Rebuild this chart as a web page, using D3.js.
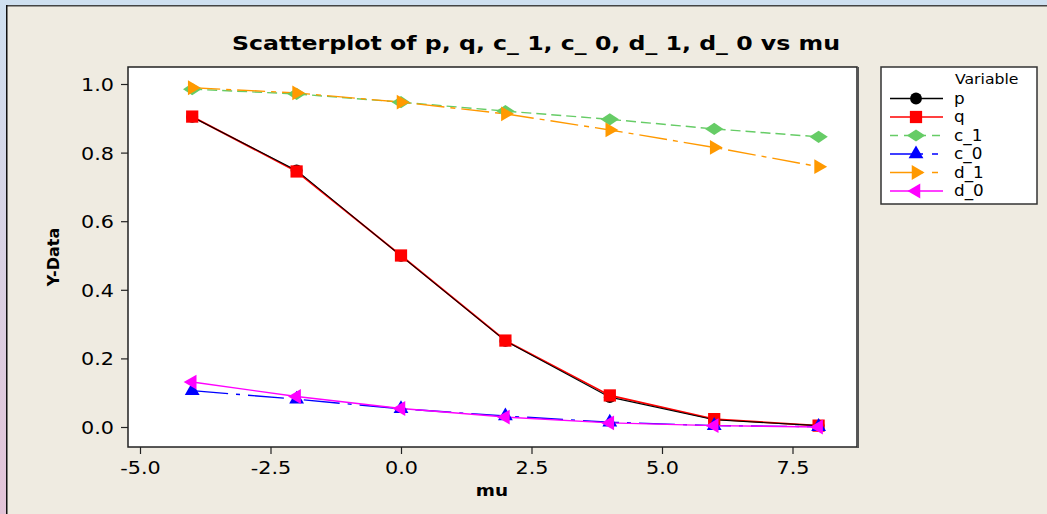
<!DOCTYPE html>
<html>
<head>
<meta charset="utf-8">
<script src="https://cdn.jsdelivr.net/npm/d3@7"></script>
<style>
  body { margin: 0; padding: 0; background: #efebe1; }
  svg { display: block; }
  text { font-family: "DejaVu Sans", Verdana, sans-serif; fill: #000; }
</style>
</head>
<body>
<div id="chart"></div>
<script>
// values
var mu = [-4, -2, 0, 2, 4, 6, 8];
var p = [0.904, 0.748, 0.499, 0.251, 0.087, 0.021, 0.004];
var q = [0.905, 0.745, 0.500, 0.252, 0.092, 0.023, 0.004];
var c_1 = [0.985, 0.971, 0.947, 0.921, 0.897, 0.869, 0.846];
var c_0 = [0.106, 0.081, 0.053, 0.032, 0.014, 0.004, 0.001];
var d_1 = [0.989, 0.974, 0.947, 0.913, 0.866, 0.815, 0.759];
var d_0 = [0.131, 0.089, 0.054, 0.029, 0.012, 0.004, 0.000];
var seriesNames = ["p", "q", "c_1", "c_0", "d_1", "d_0"];
var xTicks = [-5, -2.5, 0, 2.5, 5, 7.5];
var yTicks = [0, 0.2, 0.4, 0.6, 0.8, 1.0];

var width = 1047, height = 514;
var box = {left: 128, right: 857, top: 67, bottom: 447};

// wide diamond like minitab's
var wideDiamond = {
    draw: function(ctx, size) {
        var h = Math.sqrt(size) / 2;
        var w = h * 1.5;
        ctx.moveTo(-w, 0); ctx.lineTo(0, -h); ctx.lineTo(w, 0); ctx.lineTo(0, h); ctx.closePath();
    }
};

var styles = {
    p:   {color: "#000000", dash: null,       lw: 1.1, sym: d3.symbolCircle,   size: 110, rot: 0},
    q:   {color: "#ff0000", dash: null,       lw: 1.8, sym: d3.symbolSquare,   size: 150, rot: 0},
    c_1: {color: "#66cc66", dash: "10,5",     lw: 1.4, sym: wideDiamond,       size: 150, rot: 0},
    c_0: {color: "#0000ff", dash: "36,8,4,8", lw: 1.4, sym: d3.symbolTriangle, size: 95,  rot: 0},
    d_1: {color: "#ff9900", dash: "28,6,5,6", lw: 1.4, sym: d3.symbolTriangle, size: 95,  rot: 90},
    d_0: {color: "#ff00ff", dash: null,       lw: 1.4, sym: d3.symbolTriangle, size: 95,  rot: -90}
};
var values = {p: p, q: q, c_1: c_1, c_0: c_0, d_1: d_1, d_0: d_0};

// minitab's text is a bit wider than DejaVu, stretch it
function stretch(sel, k) {
    sel.each(function() {
        var w = this.getComputedTextLength();
        d3.select(this).attr("textLength", w * k).attr("lengthAdjust", "spacingAndGlyphs");
    });
}

var svg = d3.select("#chart").append("svg").attr("width", width).attr("height", height);

// window frame bits
var defs = svg.append("defs");
var grad = defs.append("linearGradient").attr("id", "side").attr("x1", 0).attr("y1", 0).attr("x2", 0).attr("y2", 1);
grad.append("stop").attr("offset", "0%").attr("stop-color", "#cfe0f0");
grad.append("stop").attr("offset", "100%").attr("stop-color", "#e3c3d7");
svg.append("rect").attr("x", 0).attr("y", 0).attr("width", width).attr("height", height).attr("fill", "#efebe1");
svg.append("rect").attr("x", 0).attr("y", 0).attr("width", width).attr("height", 5).attr("fill", "#cfe0f0");
svg.append("rect").attr("x", 0).attr("y", 0).attr("width", 6).attr("height", height).attr("fill", "url(#side)");
svg.append("rect").attr("x", 6).attr("y", 5).attr("width", width).attr("height", 1.5).attr("fill", "#444");
svg.append("rect").attr("x", 6).attr("y", 5).attr("width", 1.5).attr("height", height).attr("fill", "#111");

var x = d3.scaleLinear().domain([-5, 7.5]).range([140, 792.5]);
var y = d3.scaleLinear().domain([0, 1]).range([427, 84]);

// plot area
svg.append("rect")
    .attr("x", box.left).attr("y", box.top)
    .attr("width", box.right - box.left).attr("height", box.bottom - box.top)
    .attr("fill", "#fff").attr("stroke", "#222").attr("stroke-width", 1.5);
svg.append("line").attr("x1", box.right + 1).attr("x2", box.right + 1)
    .attr("y1", box.top).attr("y2", box.bottom + 1)
    .attr("stroke", "#555").attr("stroke-width", 2);

var fmt = function(d) { return d3.format(".1f")(d).replace("\u2212", "-"); };
var xAxis = d3.axisBottom(x).tickValues(xTicks).tickSize(7).tickSizeOuter(0).tickFormat(fmt);
var yAxis = d3.axisLeft(y).tickValues(yTicks).tickSize(7).tickSizeOuter(0).tickFormat(fmt);

var gx = svg.append("g").attr("transform", "translate(0," + box.bottom + ")").call(xAxis);
var gy = svg.append("g").attr("transform", "translate(" + box.left + ",0)").call(yAxis);
[gx, gy].forEach(function(g) {
    g.select(".domain").remove();
    g.selectAll(".tick line").attr("stroke", "#222").attr("stroke-width", 1.2);
    g.selectAll(".tick text").attr("font-size", 18).attr("font-family", "DejaVu Sans").attr("fill", "#000");
    stretch(g.selectAll(".tick text"), 1.15);
});
gx.selectAll(".tick text").attr("dy", null).attr("y", 27);
gy.selectAll(".tick text").attr("x", -14).attr("dy", "0.36em");

var line = d3.line()
    .x(function(d) { return x(d[0]); })
    .y(function(d) { return y(d[1]); });

function pointsOf(name) {
    return mu.map(function(m, i) { return [m, values[name][i]]; });
}

// lines first (p over q like the original), markers after
["q", "p", "c_1", "c_0", "d_1", "d_0"].forEach(function(name) {
    var st = styles[name];
    svg.append("path")
        .attr("d", line(pointsOf(name)))
        .attr("fill", "none")
        .attr("stroke", st.color)
        .attr("stroke-width", st.lw)
        .attr("stroke-dasharray", st.dash);
});
seriesNames.forEach(function(name) {
    var st = styles[name];
    svg.append("g").selectAll("path").data(pointsOf(name)).enter().append("path")
        .attr("d", d3.symbol().type(st.sym).size(st.size))
        .attr("transform", function(d) {
            return "translate(" + x(d[0]) + "," + y(d[1]) + ") rotate(" + st.rot + ")";
        })
        .attr("fill", st.color);
});

// title and axis labels
svg.append("text")
    .attr("x", 536).attr("y", 50)
    .attr("text-anchor", "middle")
    .attr("font-size", 20).attr("font-weight", "bold")
    .attr("textLength", 608).attr("lengthAdjust", "spacingAndGlyphs")
    .text("Scatterplot of p, q, c_ 1, c_ 0, d_ 1, d_ 0 vs mu");
stretch(svg.append("text")
    .attr("x", 492).attr("y", 496)
    .attr("text-anchor", "middle")
    .attr("font-size", 16).attr("font-weight", "bold")
    .text("mu"), 1.15);
svg.append("text")
    .attr("transform", "translate(59,257) rotate(-90)")
    .attr("text-anchor", "middle")
    .attr("font-size", 16).attr("font-weight", "bold")
    .text("Y-Data");

// legend
var legend = svg.append("g");
legend.append("rect")
    .attr("x", 881).attr("y", 67).attr("width", 156).attr("height", 137)
    .attr("fill", "#fff").attr("stroke", "#333").attr("stroke-width", 1.5);
stretch(legend.append("text").attr("x", 955).attr("y", 84).attr("font-size", 14).text("Variable"), 1.12);

seriesNames.forEach(function(name, i) {
    var st = styles[name];
    var ly = 98.5 + i * 18.5;
    legend.append("line")
        .attr("x1", 890).attr("x2", 943).attr("y1", ly).attr("y2", ly)
        .attr("stroke", st.color).attr("stroke-width", 1.6)
        .attr("stroke-dasharray", st.dash == null ? null : (name === "c_1" ? "8,6" : "33,9,6,6"));
    legend.append("path")
        .attr("d", d3.symbol().type(st.sym).size(st.size))
        .attr("transform", "translate(916," + ly + ") rotate(" + st.rot + ")")
        .attr("fill", st.color);
    stretch(legend.append("text")
        .attr("x", 954).attr("y", ly).attr("dy", "0.35em")
        .attr("font-size", 15)
        .text(name), 1.12);
});
</script>
</body>
</html>
